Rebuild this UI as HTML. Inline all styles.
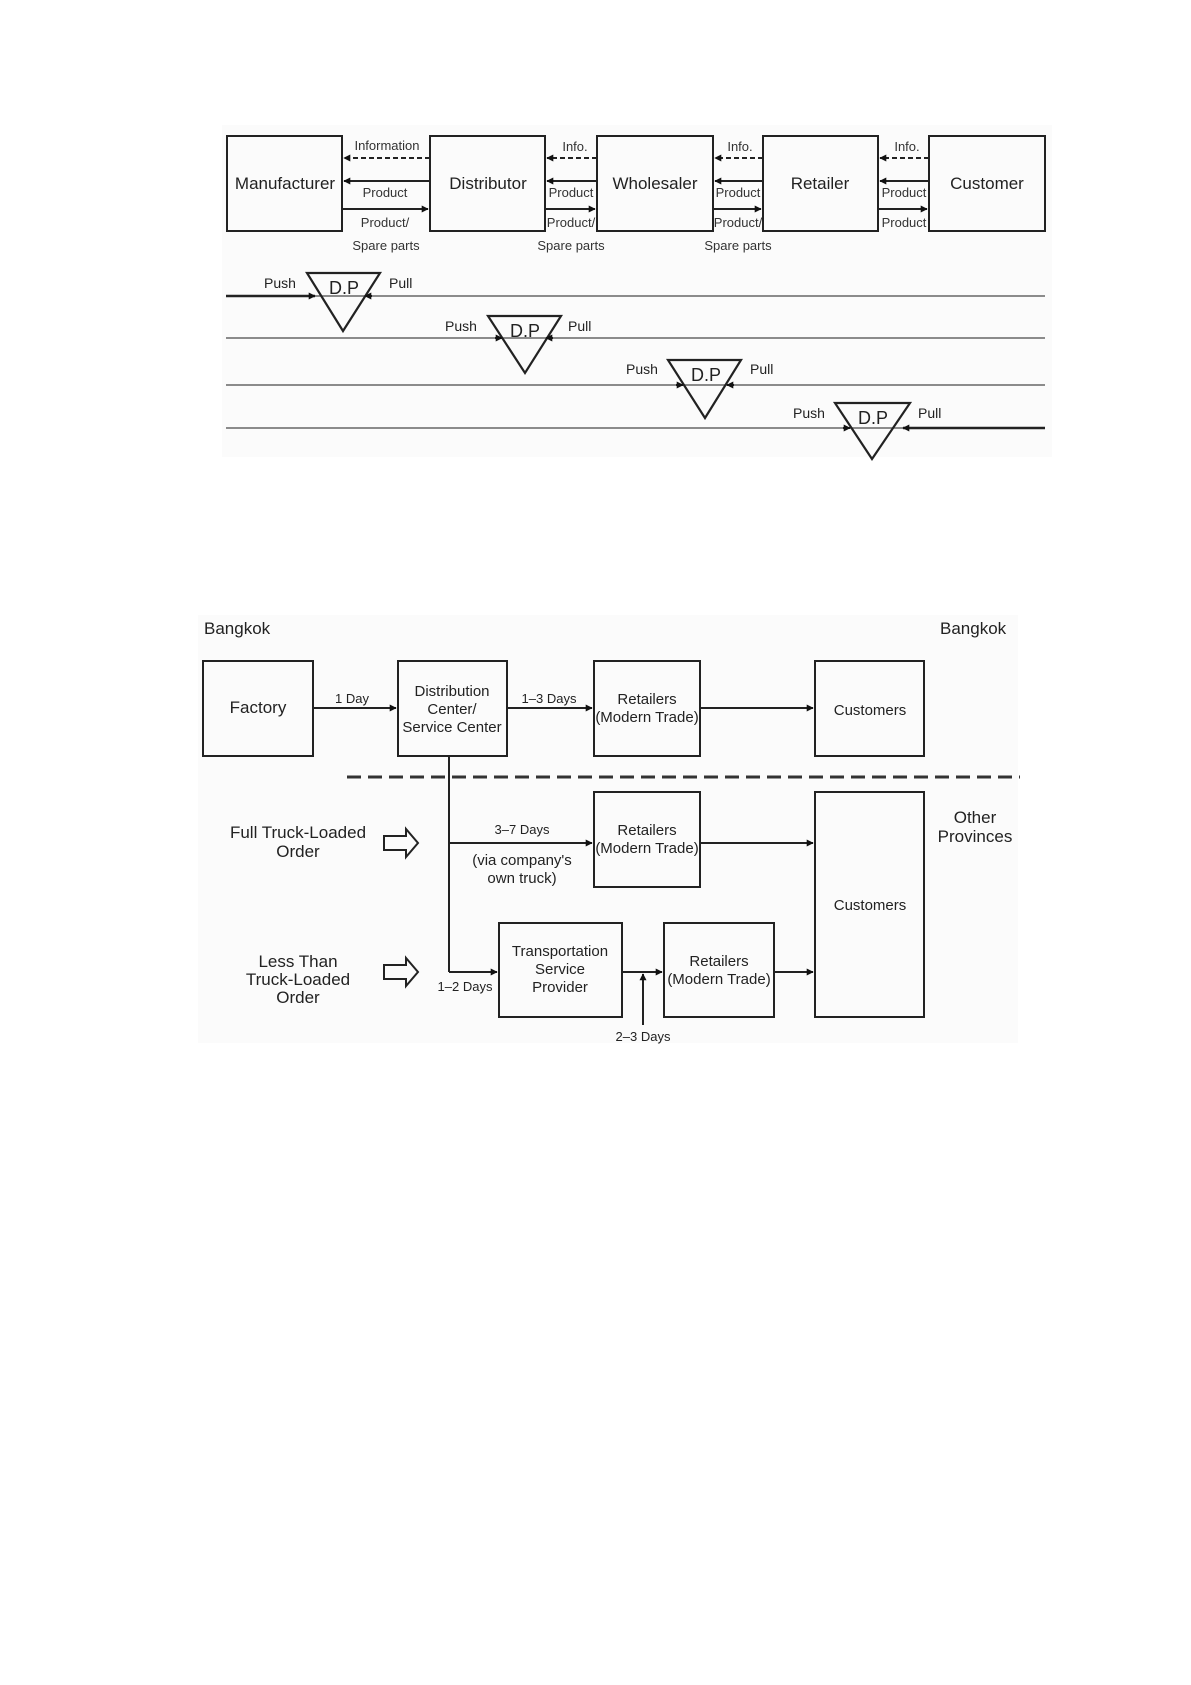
<!DOCTYPE html>
<html><head><meta charset="utf-8"><style>
html,body{margin:0;padding:0;background:#fff;}
svg{display:block;font-family:"Liberation Sans",Arial,sans-serif;}
</style></head><body>
<svg width="1191" height="1685" viewBox="0 0 1191 1685" xmlns="http://www.w3.org/2000/svg">
<defs>
<marker id="a" viewBox="0 0 10 10" refX="9" refY="5" markerWidth="7" markerHeight="7" orient="auto-start-reverse" markerUnits="userSpaceOnUse"><path d="M0,0 L10,5 L0,10 z" fill="#111"/></marker>
</defs>
<rect x="222" y="125" width="830" height="332" fill="#fbfbfb"/>
<rect x="198" y="615" width="820" height="428" fill="#fbfbfb"/>
<g fill="none" stroke="#222" stroke-width="2">
<rect x="227" y="136" width="115" height="95"/>
<rect x="430" y="136" width="115" height="95"/>
<rect x="597" y="136" width="116" height="95"/>
<rect x="763" y="136" width="115" height="95"/>
<rect x="929" y="136" width="116" height="95"/>
</g>
<g font-size="17" text-anchor="middle" fill="#222">
<text x="285" y="189">Manufacturer</text>
<text x="488" y="189">Distributor</text>
<text x="655" y="189">Wholesaler</text>
<text x="820" y="189">Retailer</text>
<text x="987" y="189">Customer</text>
</g>
<g stroke="#222" stroke-width="2" fill="none">
<line x1="430" y1="158" x2="344" y2="158" stroke-dasharray="5,3" marker-end="url(#a)"/>
<line x1="430" y1="181" x2="344" y2="181" marker-end="url(#a)"/>
<line x1="342" y1="209" x2="428" y2="209" marker-end="url(#a)"/>
<line x1="597" y1="158" x2="547" y2="158" stroke-dasharray="5,3" marker-end="url(#a)"/>
<line x1="597" y1="181" x2="547" y2="181" marker-end="url(#a)"/>
<line x1="545" y1="209" x2="595" y2="209" marker-end="url(#a)"/>
<line x1="763" y1="158" x2="715" y2="158" stroke-dasharray="5,3" marker-end="url(#a)"/>
<line x1="763" y1="181" x2="715" y2="181" marker-end="url(#a)"/>
<line x1="713" y1="209" x2="761" y2="209" marker-end="url(#a)"/>
<line x1="929" y1="158" x2="880" y2="158" stroke-dasharray="5,3" marker-end="url(#a)"/>
<line x1="929" y1="181" x2="880" y2="181" marker-end="url(#a)"/>
<line x1="878" y1="209" x2="927" y2="209" marker-end="url(#a)"/>
</g>
<g font-size="13" text-anchor="middle" fill="#333">
<text x="387" y="150">Information</text>
<text x="385" y="197">Product</text>
<text x="385" y="227">Product/</text>
<text x="386" y="250">Spare parts</text>
<text x="575" y="151">Info.</text>
<text x="571" y="197">Product</text>
<text x="571" y="227">Product/</text>
<text x="571" y="250">Spare parts</text>
<text x="740" y="151">Info.</text>
<text x="738" y="197">Product</text>
<text x="738" y="227">Product/</text>
<text x="738" y="250">Spare parts</text>
<text x="907" y="151">Info.</text>
<text x="904" y="197">Product</text>
<text x="904" y="227">Product</text>
</g>
<g stroke="#666" stroke-width="1.5">
<line x1="226" y1="296" x2="1045" y2="296"/>
<line x1="226" y1="338" x2="1045" y2="338"/>
<line x1="226" y1="385" x2="1045" y2="385"/>
<line x1="226" y1="428" x2="1045" y2="428"/>
</g>
<g stroke="#222" stroke-width="2.5" fill="#fff">
<line x1="226" y1="296" x2="315" y2="296" marker-end="url(#a)"/>
<line x1="1045" y1="428" x2="903" y2="428" marker-end="url(#a)"/>
</g>
<g stroke="#222" stroke-width="2.2" fill="none">
<path d="M307,273 L380,273 L343,331 Z"/>
<path d="M488,316 L561,316 L525,373 Z"/>
<path d="M668,360 L741,360 L705,418 Z"/>
<path d="M835,403 L910,403 L872,459 Z"/>
</g>
<g stroke="#222" stroke-width="2">
<line x1="372" y1="296" x2="365" y2="296" marker-end="url(#a)"/>
<line x1="495" y1="338" x2="502" y2="338" marker-end="url(#a)"/>
<line x1="553" y1="338" x2="546" y2="338" marker-end="url(#a)"/>
<line x1="676" y1="385" x2="683" y2="385" marker-end="url(#a)"/>
<line x1="734" y1="385" x2="727" y2="385" marker-end="url(#a)"/>
<line x1="843" y1="428" x2="850" y2="428" marker-end="url(#a)"/>
</g>
<g font-size="18" text-anchor="middle" fill="#222">
<text x="344" y="294">D.P</text>
<text x="525" y="337">D.P</text>
<text x="706" y="381">D.P</text>
<text x="873" y="424">D.P</text>
</g>
<g font-size="14" fill="#222">
<text x="264" y="288">Push</text><text x="389" y="288">Pull</text>
<text x="445" y="331">Push</text><text x="568" y="331">Pull</text>
<text x="626" y="374">Push</text><text x="750" y="374">Pull</text>
<text x="793" y="418">Push</text><text x="918" y="418">Pull</text>
</g>

<g font-size="17" fill="#222">
<text x="204" y="634">Bangkok</text>
<text x="940" y="634">Bangkok</text>
<text x="975" y="823" text-anchor="middle">Other</text>
<text x="975" y="842" text-anchor="middle">Provinces</text>
<text x="298" y="838" text-anchor="middle">Full Truck-Loaded</text>
<text x="298" y="857" text-anchor="middle">Order</text>
<text x="298" y="967" text-anchor="middle">Less Than</text>
<text x="298" y="985" text-anchor="middle">Truck-Loaded</text>
<text x="298" y="1003" text-anchor="middle">Order</text>
</g>
<g fill="none" stroke="#222" stroke-width="2">
<rect x="203" y="661" width="110" height="95"/>
<rect x="398" y="661" width="109" height="95"/>
<rect x="594" y="661" width="106" height="95"/>
<rect x="815" y="661" width="109" height="95"/>
<rect x="594" y="792" width="106" height="95"/>
<rect x="499" y="923" width="123" height="94"/>
<rect x="664" y="923" width="110" height="94"/>
<rect x="815" y="792" width="109" height="225"/>
<line x1="347" y1="777" x2="1020" y2="777" stroke-width="3" stroke-dasharray="14,7" stroke="#333"/>
<line x1="449" y1="756" x2="449" y2="972"/>
<line x1="313" y1="708" x2="396" y2="708" marker-end="url(#a)"/>
<line x1="507" y1="708" x2="592" y2="708" marker-end="url(#a)"/>
<line x1="700" y1="708" x2="813" y2="708" marker-end="url(#a)"/>
<line x1="449" y1="843" x2="592" y2="843" marker-end="url(#a)"/>
<line x1="700" y1="843" x2="813" y2="843" marker-end="url(#a)"/>
<line x1="449" y1="972" x2="497" y2="972" marker-end="url(#a)"/>
<line x1="622" y1="972" x2="662" y2="972" marker-end="url(#a)"/>
<line x1="643" y1="1025" x2="643" y2="974" marker-end="url(#a)"/>
<line x1="774" y1="972" x2="813" y2="972" marker-end="url(#a)"/>
<path d="M384,836 L406,836 L406,829 L418,843 L406,857 L406,850 L384,850 Z"/>
<path d="M384,965 L406,965 L406,958 L418,972 L406,986 L406,979 L384,979 Z"/>
</g>
<g font-size="15" text-anchor="middle" fill="#222">
<text x="258" y="713" font-size="17">Factory</text>
<text x="452" y="696">Distribution</text>
<text x="452" y="714">Center/</text>
<text x="452" y="732">Service Center</text>
<text x="647" y="704">Retailers</text>
<text x="647" y="722">(Modern Trade)</text>
<text x="870" y="715">Customers</text>
<text x="647" y="835">Retailers</text>
<text x="647" y="853">(Modern Trade)</text>
<text x="870" y="910">Customers</text>
<text x="560" y="956">Transportation</text>
<text x="560" y="974">Service</text>
<text x="560" y="992">Provider</text>
<text x="719" y="966">Retailers</text>
<text x="719" y="984">(Modern Trade)</text>
<text x="522" y="865">(via company's</text>
<text x="522" y="883">own truck)</text>
</g>
<g font-size="13" text-anchor="middle" fill="#222">
<text x="352" y="703">1 Day</text>
<text x="549" y="703">1–3 Days</text>
<text x="522" y="834">3–7 Days</text>
<text x="465" y="991">1–2 Days</text>
<text x="643" y="1041">2–3 Days</text>
</g>
</svg>
</body></html>
